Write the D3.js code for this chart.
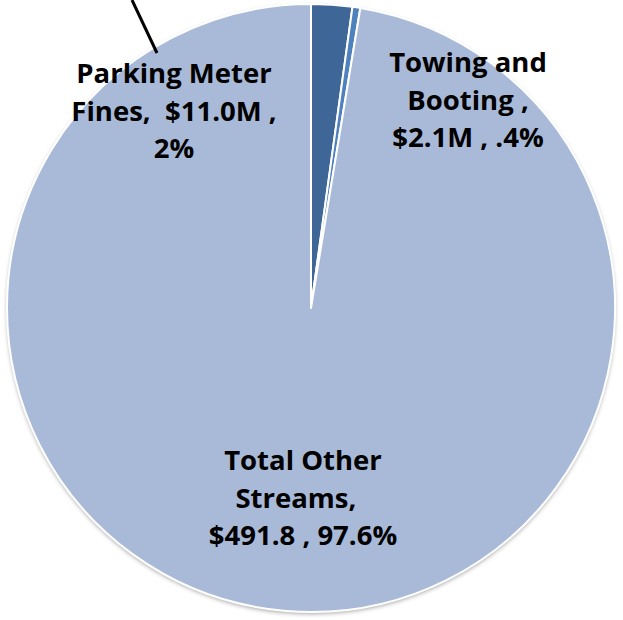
<!DOCTYPE html>
<html>
<head>
<meta charset="utf-8">
<script src="https://d3js.org/d3.v7.min.js"></script>
<style>
  body { margin: 0; background: #fff; }
  .lbl { font-family: "Open Sans", Lato, sans-serif; font-weight: bold; font-size: 27.5px; fill: #000; }
</style>
</head>
<body>
<svg id="chart" width="623" height="620"></svg>
<script>
"use strict";

var categories = ["Parking Meter Fines", "Towing and Booting", "Total Other Streams"];
var values = [11.0, 2.1, 491.8];
var labelLines = [
  ["Parking Meter", "Fines,  $11.0M ,", "2%"],
  ["Towing and", "Booting ,", "$2.1M , .4%"],
  ["Total Other", "Streams,  ", "$491.8 , 97.6%"]
];
var colors = ["#3E6797", "#4F81BD", "#A9BAD8"];

var width = 623, height = 620;
var cx = 311, cy = 308, radius = 304;

var svg = d3.select("#chart");

var defs = svg.append("defs");
var shadow = defs.append("filter").attr("id", "shadow")
  .attr("x", "-10%").attr("y", "-10%").attr("width", "120%").attr("height", "120%");
shadow.append("feDropShadow")
  .attr("dx", 0).attr("dy", 2).attr("stdDeviation", 2)
  .attr("flood-color", "#000").attr("flood-opacity", 0.35);

var pie = d3.pie().sort(null).value(function(d) { return d; });
var arc = d3.arc().innerRadius(0).outerRadius(radius);
var arcs = pie(values);

var g = svg.append("g").attr("transform", "translate(" + cx + "," + cy + ")");

g.append("circle").attr("r", radius).attr("fill", colors[2]).attr("filter", "url(#shadow)");

g.selectAll("path.slice")
  .data(arcs)
  .enter().append("path")
  .attr("class", "slice")
  .attr("d", arc)
  .attr("fill", function(d, i) { return colors[i]; })
  .attr("stroke", "#fff")
  .attr("stroke-width", 2)
  .attr("stroke-linejoin", "round");

// label positions (centre of first line) relative to svg
var labelPos = [[174, 72], [468, 61], [303, 459]];
var lineHeight = 37.5;

svg.append("line")
  .attr("x1", 132).attr("y1", 0)
  .attr("x2", 157).attr("y2", 53)
  .attr("stroke", "#000").attr("stroke-width", 3);

labelLines.forEach(function(lines, i) {
  var t = svg.append("text").attr("class", "lbl")
    .attr("text-anchor", "middle")
    .attr("x", labelPos[i][0])
    .attr("y", labelPos[i][1])
    .attr("dominant-baseline", "central");
  lines.forEach(function(s, j) {
    t.append("tspan")
      .attr("x", labelPos[i][0])
      .attr("dy", j === 0 ? 0 : lineHeight)
      .style("white-space", "pre")
      .text(s);
  });
});
</script>
</body>
</html>
